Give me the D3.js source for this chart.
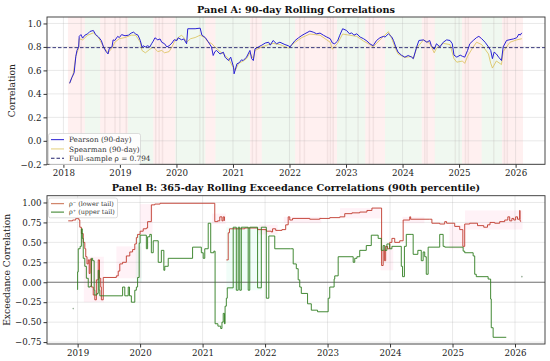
<!DOCTYPE html>
<html>
<head>
<meta charset="utf-8">
<script src="https://cdn.jsdelivr.net/npm/d3@7"></script>
<style>
    body {margin: 0; background: #fff;}
    svg {display: block; font-family: "DejaVu Serif", serif;}
</style>
</head>
<body>
<svg id="chart" width="550" height="361"></svg>
<script>
// ---- Panel A: 90-day rolling correlations [decimal year, value]
const pearson = [
    [2018.11,0.49],[2018.15,0.54],[2018.17,0.56],[2018.19,0.58],[2018.22,0.72],[2018.24,0.77],[2018.27,0.80],[2018.28,0.89],
    [2018.31,0.905],[2018.34,0.875],[2018.38,0.90],[2018.43,0.912],[2018.47,0.932],[2018.53,0.94],[2018.57,0.905],[2018.62,0.885],
    [2018.67,0.855],[2018.71,0.80],[2018.75,0.764],[2018.79,0.74],[2018.81,0.784],[2018.86,0.80],[2018.88,0.86],[2018.91,0.855],
    [2018.96,0.89],[2018.99,0.88],[2019.03,0.905],[2019.09,0.895],[2019.15,0.90],[2019.20,0.918],[2019.24,0.926],[2019.28,0.91],
    [2019.32,0.90],[2019.36,0.855],[2019.39,0.80],[2019.41,0.81],[2019.45,0.80],[2019.49,0.81],[2019.53,0.80],[2019.56,0.827],
    [2019.59,0.85],[2019.62,0.878],[2019.67,0.86],[2019.71,0.868],[2019.74,0.84],[2019.79,0.827],[2019.83,0.80],[2019.87,0.81],
    [2019.92,0.833],[2019.96,0.861],[2020.01,0.855],[2020.03,0.878],[2020.09,0.861],[2020.13,0.868],[2020.18,0.827],[2020.20,0.955],
    [2020.33,0.955],[2020.42,0.96],[2020.45,0.90],[2020.51,0.88],[2020.56,0.845],[2020.62,0.80],[2020.65,0.727],[2020.68,0.76],
    [2020.71,0.77],[2020.77,0.74],[2020.83,0.755],[2020.86,0.713],[2020.92,0.684],[2020.96,0.713],[2021.01,0.628],[2021.02,0.571],
    [2021.07,0.656],[2021.11,0.665],[2021.15,0.69],[2021.18,0.684],[2021.24,0.713],[2021.30,0.77],[2021.33,0.70],[2021.36,0.684],
    [2021.39,0.784],[2021.45,0.80],[2021.51,0.815],[2021.57,0.833],[2021.63,0.84],[2021.66,0.815],[2021.71,0.855],[2021.77,0.827],
    [2021.83,0.84],[2021.92,0.82],[2021.98,0.81],[2022.01,0.80],[2022.04,0.82],[2022.10,0.855],[2022.16,0.878],[2022.22,0.898],
    [2022.27,0.912],[2022.36,0.935],[2022.42,0.926],[2022.48,0.912],[2022.54,0.918],[2022.60,0.90],[2022.66,0.884],[2022.72,0.87],
    [2022.76,0.833],[2022.80,0.827],[2022.85,0.85],[2022.89,0.90],[2022.94,0.955],[2023.01,0.94],[2023.06,0.912],[2023.10,0.92],
    [2023.14,0.90],[2023.19,0.912],[2023.25,0.884],[2023.31,0.87],[2023.37,0.85],[2023.42,0.827],[2023.48,0.81],[2023.54,0.855],
    [2023.60,0.878],[2023.66,0.89],[2023.69,0.884],[2023.75,0.912],[2023.81,0.884],[2023.84,0.855],[2023.88,0.80],[2023.92,0.756],
    [2023.98,0.73],[2024.04,0.713],[2024.10,0.727],[2024.16,0.713],[2024.19,0.70],[2024.25,0.80],[2024.29,0.855],[2024.37,0.86],
    [2024.43,0.84],[2024.48,0.855],[2024.51,0.81],[2024.56,0.78],[2024.60,0.827],[2024.66,0.80],[2024.72,0.84],[2024.78,0.86],
    [2024.84,0.855],[2024.88,0.827],[2024.91,0.73],[2024.96,0.713],[2025.02,0.73],[2025.06,0.72],[2025.10,0.713],[2025.15,0.77],
    [2025.19,0.827],[2025.25,0.855],[2025.31,0.88],[2025.35,0.89],[2025.40,0.87],[2025.46,0.84],[2025.52,0.80],[2025.56,0.77],
    [2025.59,0.70],[2025.62,0.756],[2025.66,0.74],[2025.70,0.713],[2025.75,0.684],[2025.78,0.80],[2025.84,0.855],[2025.90,0.862],
    [2025.96,0.868],[2026.02,0.878],[2026.06,0.91],[2026.08,0.90],[2026.11,0.92]
];
const spearman = [
    [2018.11,0.49],[2018.17,0.56],[2018.22,0.72],[2018.27,0.79],[2018.28,0.87],[2018.34,0.86],[2018.43,0.90],[2018.53,0.92],
    [2018.62,0.88],[2018.71,0.80],[2018.79,0.75],[2018.86,0.79],[2018.91,0.84],[2018.99,0.87],[2019.09,0.88],[2019.20,0.90],
    [2019.28,0.90],[2019.36,0.84],[2019.39,0.77],[2019.45,0.75],[2019.53,0.78],[2019.59,0.80],[2019.67,0.76],[2019.74,0.77],
    [2019.79,0.75],[2019.87,0.76],[2019.92,0.80],[2019.96,0.84],[2020.03,0.88],[2020.09,0.90],[2020.13,0.88],[2020.18,0.84],
    [2020.25,0.87],[2020.33,0.88],[2020.42,0.90],[2020.50,0.88],[2020.56,0.84],[2020.62,0.83],[2020.68,0.80],[2020.77,0.76],
    [2020.83,0.74],[2020.92,0.70],[2021.01,0.62],[2021.04,0.60],[2021.10,0.66],[2021.18,0.68],[2021.24,0.70],[2021.30,0.75],
    [2021.36,0.70],[2021.39,0.77],[2021.51,0.80],[2021.63,0.82],[2021.71,0.83],[2021.83,0.82],[2021.98,0.79],[2022.10,0.84],
    [2022.22,0.88],[2022.36,0.91],[2022.54,0.90],[2022.66,0.86],[2022.72,0.84],[2022.76,0.78],[2022.85,0.83],[2022.94,0.91],
    [2023.06,0.90],[2023.19,0.89],[2023.31,0.85],[2023.42,0.82],[2023.48,0.80],[2023.60,0.86],[2023.75,0.93],[2023.81,0.87],
    [2023.88,0.78],[2023.92,0.74],[2024.04,0.71],[2024.16,0.72],[2024.19,0.70],[2024.25,0.79],[2024.37,0.86],[2024.48,0.83],
    [2024.56,0.75],[2024.60,0.79],[2024.72,0.83],[2024.84,0.82],[2024.91,0.70],[2024.96,0.67],[2025.06,0.68],[2025.10,0.66],
    [2025.15,0.72],[2025.25,0.80],[2025.31,0.84],[2025.40,0.82],[2025.52,0.74],[2025.56,0.66],[2025.59,0.62],[2025.66,0.68],
    [2025.75,0.65],[2025.78,0.76],[2025.90,0.84],[2026.02,0.86],[2026.11,0.87]
];
const fullSampleRho = 0.794;

// regime shading behind panel A [start, end, regime]
const regimes = [
    [2018.08,2018.38,'stress'],[2018.38,2018.65,'calm'],[2018.65,2019.14,'stress'],[2019.14,2019.59,'calm'],
    [2019.59,2019.98,'stress'],[2019.98,2020.51,'calm'],[2020.51,2020.69,'stress'],[2020.69,2021.30,'calm'],
    [2021.30,2021.51,'stress'],[2021.51,2022.10,'calm'],[2022.10,2022.84,'stress'],[2022.84,2023.34,'calm'],
    [2023.34,2023.69,'stress'],[2023.69,2024.34,'calm'],[2024.34,2024.57,'stress'],[2024.57,2025.05,'calm'],
    [2025.05,2025.40,'stress'],[2025.40,2025.76,'calm'],[2025.76,2026.13,'stress']
];
// short regime switches that show as darker streaks
const switches = [
    2018.30,2018.72,2018.90,2019.10,2019.62,2019.68,2019.74,2020.40,2020.46,2021.33,2021.40,2022.17,
    2022.25,2022.66,2022.71,2022.76,2023.20,2023.40,2023.47,2024.38,2024.42,2024.92,2025.10,2025.15,
    2025.60,2025.79,2025.84
];

// ---- Panel B: 365-day exceedance correlations [decimal year, value], null = gap
const lowerTail = [
    [2018.85,0.77],[2018.92,0.78],[2018.97,0.80],[2019.02,0.78],[2019.035,0.69],[2019.06,0.61],[2019.09,0.50],[2019.115,0.42],
    [2019.13,0.32],[2019.15,0.23],[2019.17,0.28],[2019.185,0.11],[2019.20,0.29],[2019.22,-0.06],[2019.25,-0.16],[2019.275,-0.22],
    [2019.30,0.03],[2019.33,0.28],[2019.35,0.05],[2019.37,-0.06],[2019.38,-0.22],[2019.41,0.06],[2019.62,0.08],[2019.65,0.14],
    [2019.675,0.23],[2019.72,0.25],[2019.78,0.33],[2019.835,0.38],[2019.88,0.41],[2019.915,0.48],[2019.94,0.56],[2019.96,0.60],
    [2020.0,0.64],[2020.05,0.67],[2020.10,0.68],[2020.12,0.76],[2020.18,0.97],[2020.235,0.98],[2020.32,0.99],[2021.195,0.76],
    [2021.24,0.77],[2021.275,0.82],[2021.31,0.77],[2021.33,0.82],[2021.35,0.77],[2021.365,null],[2021.38,0.28],[2021.41,0.62],
    [2021.43,0.67],[2021.675,0.68],[2021.88,0.66],[2022.02,0.64],[2022.10,0.63],[2022.12,0.67],[2022.17,0.65],[2022.27,0.66],
    [2022.33,0.72],[2022.37,0.82],[2022.395,0.78],[2022.44,0.80],[2022.715,0.79],[2022.875,0.80],[2023.035,0.81],[2023.195,0.82],
    [2023.275,0.86],[2023.39,0.87],[2023.515,0.88],[2023.63,0.90],[2023.71,0.93],[2023.865,0.21],[2023.89,0.40],[2023.91,0.27],
    [2023.93,0.45],[2023.96,0.42],[2023.995,0.50],[2024.03,0.55],[2024.075,0.50],[2024.155,0.52],[2024.21,0.78],[2024.315,0.82],
    [2024.33,0.79],[2024.635,0.79],[2024.67,0.74],[2024.795,0.73],[2024.875,0.76],[2024.905,0.74],[2025.035,0.70],[2025.115,0.66],
    [2025.165,0.45],[2025.195,0.73],[2025.275,0.74],[2025.40,0.71],[2025.50,0.69],[2025.56,0.72],[2025.60,0.75],[2025.675,0.74],
    [2025.755,0.76],[2025.835,0.78],[2025.885,0.82],[2025.915,0.77],[2025.95,0.80],[2025.98,0.78],[2026.01,0.82],[2026.04,0.79],
    [2026.075,0.90],[2026.08,0.77],[2026.09,0.76]
];
const upperTail = [
    [2018.99,-0.09],[2019.0,0.13],[2019.01,0.42],[2019.04,0.45],[2019.06,0.67],[2019.075,0.55],[2019.09,0.30],[2019.115,0.20],
    [2019.14,0.05],[2019.17,-0.06],[2019.20,-0.05],[2019.22,0.30],[2019.24,0.27],[2019.265,-0.10],[2019.275,-0.16],[2019.31,-0.14],
    [2019.33,0.15],[2019.345,-0.10],[2019.355,-0.17],[2019.72,-0.06],[2019.755,-0.17],[2019.81,-0.06],[2019.83,-0.17],[2019.86,-0.25],
    [2019.915,-0.10],[2019.94,-0.06],[2019.96,0.06],[2019.985,0.49],[2020.0,0.59],[2020.10,0.42],[2020.12,0.57],[2020.155,0.60],
    [2020.18,0.37],[2020.21,0.52],[2020.29,0.25],[2020.34,0.40],[2020.38,0.15],[2020.395,0.20],[2020.45,0.30],[2020.84,0.44],
    [2020.98,0.37],[2021.01,0.30],[2021.035,0.42],[2021.09,0.74],[2021.13,0.37],[2021.18,0.39],[2021.20,-0.52],[2021.245,-0.55],
    [2021.29,-0.58],[2021.31,-0.50],[2021.33,-0.39],[2021.35,-0.52],[2021.36,-0.30],[2021.38,-0.20],[2021.395,-0.07],[2021.49,0.69],
    [2021.54,-0.10],[2021.57,0.69],[2021.595,-0.10],[2021.62,0.69],[2021.73,-0.10],[2021.755,0.69],[2021.88,-0.07],[2021.94,0.69],
    [2022.02,-0.20],[2022.06,0.58],[2022.155,0.42],[2022.41,0.42],[2022.45,0.23],[2022.50,0.17],[2022.53,0.03],[2022.555,-0.06],
    [2022.58,-0.14],[2022.68,-0.27],[2022.74,-0.35],[2022.84,-0.37],[2023.01,-0.20],[2023.035,-0.06],[2023.105,0.04],[2023.115,0.08],
    [2023.17,0.32],[2023.41,0.25],[2023.435,0.30],[2023.47,0.32],[2023.515,0.40],[2023.62,0.46],[2023.70,0.59],[2023.81,0.55],
    [2023.86,0.40],[2023.89,0.46],[2023.915,0.40],[2023.95,0.48],[2023.995,0.42],[2024.03,0.45],[2024.18,0.20],[2024.20,0.07],
    [2024.23,0.45],[2024.26,0.60],[2024.35,0.60],[2024.37,0.35],[2024.445,0.40],[2024.50,0.27],[2024.53,0.38],[2024.555,0.32],
    [2024.58,0.10],[2024.61,0.44],[2024.795,0.60],[2024.85,0.45],[2024.875,0.44],[2025.17,0.39],[2025.195,0.37],[2025.33,0.33],
    [2025.355,0.10],[2025.38,0.07],[2025.57,0.04],[2025.61,-0.21],[2025.62,-0.57],[2025.65,-0.69],[2025.86,-0.69]
];
// isolated single-window estimates
const upperTailDots = [[2018.93,-0.33],[2026.11,0.07]];
// shaded spreads around the tails [start, end, low, high]
const lowerSpread = [
    [2019.10,2019.42,-0.25,0.32],[2019.62,2020.02,0.05,0.45],[2020.00,2020.20,0.60,0.98],[2021.15,2021.37,0.73,0.86],
    [2021.90,2022.20,0.60,0.72],[2022.30,2022.90,0.74,0.82],[2023.20,2023.85,0.80,0.93],[2023.85,2024.05,0.15,0.45],
    [2024.20,2024.55,0.74,0.82],[2024.95,2025.20,0.42,0.72],[2025.20,2026.12,0.66,0.90]
];
const upperSpread = [[2019.93,2020.03,0.0,0.6],[2021.38,2021.95,-0.10,0.69]];

const yearsA = d3.range(2018, 2027);
const ticksA = [-0.2, 0.0, 0.2, 0.4, 0.6, 0.8, 1.0];
const yearsB = d3.range(2019, 2027);
const ticksB = [-0.75, -0.5, -0.25, 0.0, 0.25, 0.5, 0.75, 1.0];


const svg = d3.select('#chart');

function drawAxes(g, x, y, {years, ticks, fmt, title, ylabel, ylabelX}) {
    const [x0, x1] = x.range(), [y1, y0] = y.range();
    // grid
    g.append('g').selectAll('line.gx').data(years).join('line')
        .attr('x1', d => x(d)).attr('x2', d => x(d)).attr('y1', y0).attr('y2', y1)
        .attr('stroke', '#b0b0b0').attr('stroke-opacity', 0.35).attr('stroke-width', 0.8);
    g.append('g').selectAll('line.gy').data(ticks).join('line')
        .attr('y1', d => y(d)).attr('y2', d => y(d)).attr('x1', x0).attr('x2', x1)
        .attr('stroke', '#b0b0b0').attr('stroke-opacity', 0.35).attr('stroke-width', 0.8);
    return function frame() {
        const ax = g.append('g');
        ax.append('rect').attr('x', x0).attr('y', y0).attr('width', x1 - x0).attr('height', y1 - y0)
            .attr('fill', 'none').attr('stroke', '#333').attr('stroke-width', 0.9);
        ax.append('g').attr('transform', `translate(0,${y1})`)
            .call(d3.axisBottom(x).tickValues(years).tickFormat(d3.format('d')).tickSize(3.5).tickPadding(2))
            .call(a => a.select('.domain').remove());
        ax.append('g').attr('transform', `translate(${x0},0)`)
            .call(d3.axisLeft(y).tickValues(ticks).tickFormat(d3.format(fmt)).tickSize(3.5).tickPadding(2))
            .call(a => a.select('.domain').remove());
        ax.selectAll('.tick text').attr('font-family', '"DejaVu Serif", serif').attr('font-size', 8.7).attr('fill', '#222');
        ax.selectAll('.tick line').attr('stroke', '#333');
        g.append('text').attr('x', (x0 + x1) / 2).attr('y', y0 - 4.5).attr('text-anchor', 'middle')
            .attr('font-size', 9.7).attr('font-weight', 'bold').attr('fill', '#111').text(title);
        g.append('text').attr('transform', `translate(${ylabelX},${(y0 + y1) / 2}) rotate(-90)`)
            .attr('text-anchor', 'middle').attr('font-size', 9.2).attr('fill', '#222').text(ylabel);
    };
}

function legend(g, x, y, w, step, size, items) {
    const lg = g.append('g').attr('transform', `translate(${x},${y})`);
    lg.append('rect').attr('width', w).attr('height', items.length * step + 3).attr('rx', 2)
        .attr('fill', '#fff').attr('fill-opacity', 0.85).attr('stroke', '#d0d0d0').attr('stroke-width', 0.7);
    items.forEach((it, i) => {
        const cy = 1.5 + step / 2 + i * step;
        lg.append('line').attr('x1', 2.5).attr('x2', 15.5).attr('y1', cy).attr('y2', cy)
            .attr('stroke', it.color).attr('stroke-width', it.width || 1)
            .attr('stroke-dasharray', it.dash || null);
        lg.append('text').attr('x', 20.5).attr('y', cy + size * 0.36).attr('font-size', size)
            .attr('fill', '#333').text(it.label);
    });
}

// ---------- Panel A
(function panelA() {
    const x = d3.scaleLinear().domain([2017.71, 2026.52]).range([47, 545]);
    const y = d3.scaleLinear().domain([-0.2, 1.055]).range([164.3, 17]);
    const g = svg.append('g');

    g.append('g').selectAll('rect').data(regimes).join('rect')
        .attr('x', d => x(d[0])).attr('width', d => x(d[1]) - x(d[0]))
        .attr('y', 17).attr('height', 147.3)
        .attr('fill', d => d[2] === 'stress' ? '#ff2020' : '#2ca02c')
        .attr('fill-opacity', d => d[2] === 'stress' ? 0.065 : 0.07);
    g.append('g').selectAll('rect').data(switches).join('rect')
        .attr('x', d => x(d)).attr('width', 1.5).attr('y', 17).attr('height', 147.3)
        .attr('fill', '#8a6a6a').attr('fill-opacity', 0.1);

    const frame = drawAxes(g, x, y, {years: yearsA, ticks: ticksA, fmt: '.1f',
        title: 'Panel A: 90-day Rolling Correlations', ylabel: 'Correlation', ylabelX: 15});

    const line = d3.line().x(d => x(d[0])).y(d => y(d[1]));
    g.append('path').datum(spearman).attr('d', line).attr('fill', 'none')
        .attr('stroke', '#d9bd4f').attr('stroke-opacity', 0.85).attr('stroke-width', 0.9);
    g.append('path').datum(pearson).attr('d', line).attr('fill', 'none')
        .attr('stroke', '#2a22d4').attr('stroke-width', 1);
    g.append('line').attr('x1', 47).attr('x2', 545).attr('y1', y(fullSampleRho)).attr('y2', y(fullSampleRho))
        .attr('stroke', '#22226e').attr('stroke-width', 0.9).attr('stroke-dasharray', '3.5,2');

    frame();
    legend(g, 48.5, 133.5, 92, 9.3, 7.3, [
        {label: 'Pearson (90-day)', color: '#2a22d4'},
        {label: 'Spearman (90-day)', color: '#e3cf7a'},
        {label: 'Full-sample \u03c1 = 0.794', color: '#22226e', dash: '3.5,2'}
    ]);
})();

// ---------- Panel B
(function panelB() {
    const x = d3.scaleLinear().domain([2018.51, 2026.48]).range([47, 545]);
    const y = d3.scaleLinear().domain([-0.774, 1.085]).range([344, 195.7]);
    const g = svg.append('g');

    const frame = drawAxes(g, x, y, {years: yearsB, ticks: ticksB, fmt: '.2f',
        title: 'Panel B: 365-day Rolling Exceedance Correlations (90th percentile)',
        ylabel: 'Exceedance Correlation', ylabelX: 10});

    g.append('g').selectAll('rect').data(lowerSpread).join('rect')
        .attr('x', d => x(d[0])).attr('width', d => x(d[1]) - x(d[0]))
        .attr('y', d => y(d[3])).attr('height', d => y(d[2]) - y(d[3]))
        .attr('fill', '#ff4d94').attr('fill-opacity', 0.07);
    g.append('g').selectAll('rect').data(upperSpread).join('rect')
        .attr('x', d => x(d[0])).attr('width', d => x(d[1]) - x(d[0]))
        .attr('y', d => y(d[3])).attr('height', d => y(d[2]) - y(d[3]))
        .attr('fill', '#3ee6a0').attr('fill-opacity', 0.08);

    g.append('line').attr('x1', 47).attr('x2', 545).attr('y1', y(0)).attr('y2', y(0))
        .attr('stroke', '#777').attr('stroke-width', 1);

    const step = d3.line().defined(d => d[1] !== null)
        .x(d => x(d[0])).y(d => y(d[1])).curve(d3.curveStepAfter);
    g.append('path').datum(lowerTail).attr('d', step).attr('fill', 'none')
        .attr('stroke', '#c0392b').attr('stroke-width', 0.9);
    g.append('path').datum(upperTail).attr('d', step).attr('fill', 'none')
        .attr('stroke', '#2f7d1f').attr('stroke-width', 0.9);
    g.append('g').selectAll('circle').data(upperTailDots).join('circle')
        .attr('cx', d => x(d[0])).attr('cy', d => y(d[1])).attr('r', 0.8)
        .attr('fill', '#6a8a6a').attr('fill-opacity', 0.7);

    frame();
    legend(g, 48.5, 198, 69, 8.4, 6.4, [
        {label: '\u03c1\u207b (lower tail)', color: '#c86a4a'},
        {label: '\u03c1\u207a (upper tail)', color: '#2f7d1f'}
    ]);
})();
</script>
</body>
</html>
